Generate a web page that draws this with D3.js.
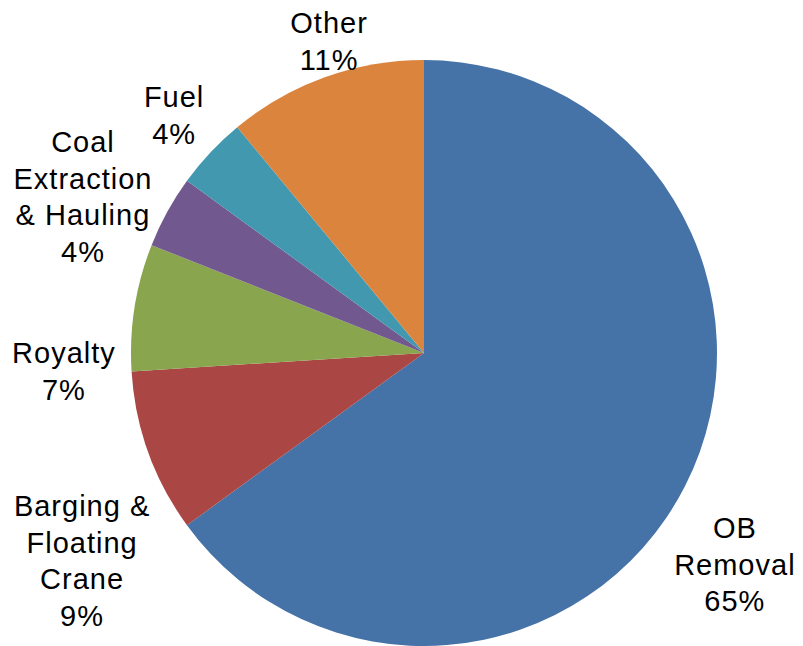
<!DOCTYPE html>
<html>
<head>
<meta charset="utf-8">
<script src="https://cdn.jsdelivr.net/npm/d3@7"></script>
<style>
  html, body { margin: 0; padding: 0; background: #fff; }
  svg { display: block; }
</style>
</head>
<body>
<script>
// Cost breakdown, clockwise from 12 o'clock
const categories = ["OB Removal", "Barging & Floating Crane", "Royalty", "Coal Extraction & Hauling", "Fuel", "Other"];
const shares = [65, 9, 7, 4, 4, 11];
// how each label wraps onto lines
const labelLines = [
  ["OB", "Removal"],
  ["Barging &", "Floating", "Crane"],
  ["Royalty"],
  ["Coal", "Extraction", "& Hauling"],
  ["Fuel"],
  ["Other"]
];
const colors = ["#4572A7", "#AA4643", "#89A54E", "#71588F", "#4198AF", "#DB843D"];

// label block centres, relative to the pie centre in units of its radius
const labelOffsets = [
  [1.061, 0.722],
  [-1.167, 0.709],
  [-1.229, 0.062],
  [-1.164, -0.534],
  [-0.853, -0.812],
  [-0.324, -1.064]
];

const W = 803, H = 646;
const cx = 424, cy = 353, R = 293;
const fontSize = 29, lineH = 36.5;

const svg = d3.select("body").append("svg")
  .attr("width", W).attr("height", H);

const data = categories.map((c, i) => ({ name: c, value: shares[i], i }));

const pie = d3.pie().value(d => d.value).sort(null);
const arc = d3.arc().innerRadius(0).outerRadius(R);

const g = svg.append("g").attr("transform", `translate(${cx},${cy})`);

g.selectAll("path.slice")
  .data(pie(data))
  .join("path")
  .attr("class", "slice")
  .attr("d", arc)
  .attr("fill", d => colors[d.data.i]);

const labels = g.selectAll("text.lbl")
  .data(pie(data))
  .join("text")
  .attr("class", "lbl")
  .attr("font-family", "'Liberation Sans', Arial, sans-serif")
  .attr("font-size", fontSize)
  .attr("letter-spacing", 1)
  .attr("fill", "#000")
  .attr("text-anchor", "middle");

labels.each(function(d) {
  const lines = labelLines[d.data.i].concat([d3.format(".0f")(d.data.value) + "%"]);
  const [ox, oy] = labelOffsets[d.data.i];
  const x = ox * R, yc = oy * R;
  const capH = fontSize * 0.716;
  const y0 = yc - (lines.length - 1) * lineH / 2 + capH / 2;
  d3.select(this).selectAll("tspan")
    .data(lines)
    .join("tspan")
    .attr("x", x)
    .attr("y", (t, k) => y0 + k * lineH)
    .text(t => t);
});
</script>
</body>
</html>
